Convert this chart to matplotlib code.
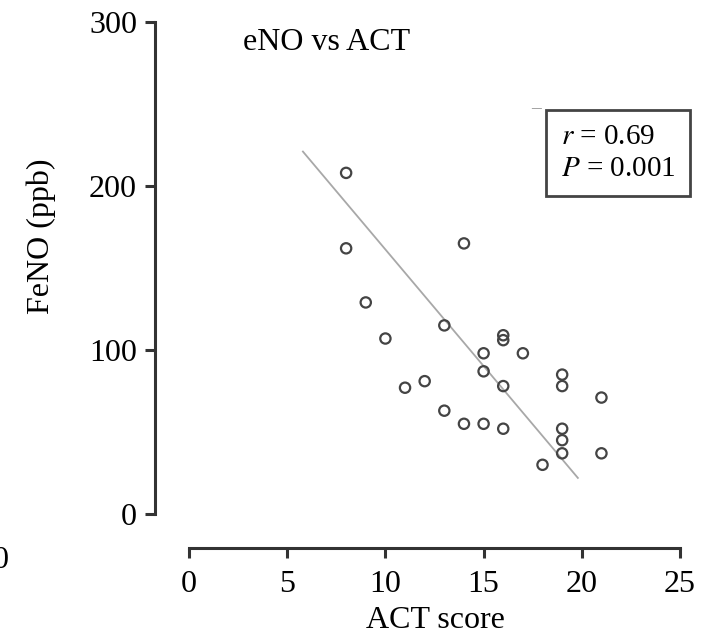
import matplotlib
matplotlib.use("Agg")
import matplotlib.pyplot as plt

plt.rcParams["font.family"] = ["Liberation Serif", "DejaVu Serif"]
plt.rcParams["mathtext.fontset"] = "stix"

# ACT score vs FeNO
act_score = [8, 8, 9, 10, 11, 12, 13, 13, 14, 14, 15, 15, 15, 16, 16, 16, 16,
             17, 18, 19, 19, 19, 19, 19, 21, 21]
feno_ppb = [208, 162, 129, 107, 77, 81, 115, 63, 165, 55, 98, 87, 55, 109, 106,
            78, 52, 98, 30, 85, 78, 52, 45, 37, 71, 37]

# regression line ends as drawn in the figure
fit_x = [5.8, 19.8]
fit_y = [221, 22]

x_ticks = [0, 5, 10, 15, 20, 25]
y_ticks = [0, 100, 200, 300]

W, H = 714, 636
fig = plt.figure(figsize=(W / 100, H / 100), dpi=100)
ax = fig.add_axes([189 / W, 1 - 514 / H, 491 / W, 492 / H])

ax.plot(fit_x, fit_y, color="#a8a8a8", lw=1.3, zorder=1)
ax.scatter(act_score, feno_ppb, s=55, facecolors="none", edgecolors="#444444",
           linewidths=1.6, zorder=2)

ax.set_xlim(0, 25)
ax.set_ylim(0, 300)
ax.set_xticks(x_ticks)
ax.set_yticks(y_ticks)

# axes are detached from the plot area by ~34 px
off = 34 * 0.72
for side in ("top", "right"):
    ax.spines[side].set_visible(False)
ax.spines["left"].set_position(("outward", off))
ax.spines["bottom"].set_position(("outward", off))
ax.spines["left"].set_bounds(0, 300)
ax.spines["bottom"].set_bounds(0, 25)
for side in ("left", "bottom"):
    ax.spines[side].set_linewidth(2.2)
    ax.spines[side].set_color("#333333")

ax.tick_params(axis="both", labelsize=23, width=2.2, color="#333333", length=7)
ax.tick_params(axis="x", pad=9)
ax.tick_params(axis="y", pad=6)

fig.text(435 / W, 1 - 621 / H, "ACT score", fontsize=23, ha="center", va="center")
fig.text(41 / W, 1 - 236 / H, "FeNO (ppb)", fontsize=23, ha="center", va="center",
         rotation=90)
fig.text(327 / W, 1 - 42 / H, "eNO vs ACT", fontsize=23, ha="center", va="center")

fig.text(618 / W, 1 - 153 / H, "$r$ = 0.69\n$P$ = 0.001",
         fontsize=21, ha="center", va="center", multialignment="left",
         linespacing=1.25,
         bbox=dict(boxstyle="square,pad=0.5", fc="white", ec="#444444", lw=2))
fig.text(536 / W, 1 - 109 / H, "\u2013", fontsize=14, color="#888888",
         ha="center", va="center")

# clipped label remnant at the left edge
fig.text(9 / W, 1 - 561 / H, "0", fontsize=23, ha="right", va="center")

fig.savefig("out.png", dpi=100)
